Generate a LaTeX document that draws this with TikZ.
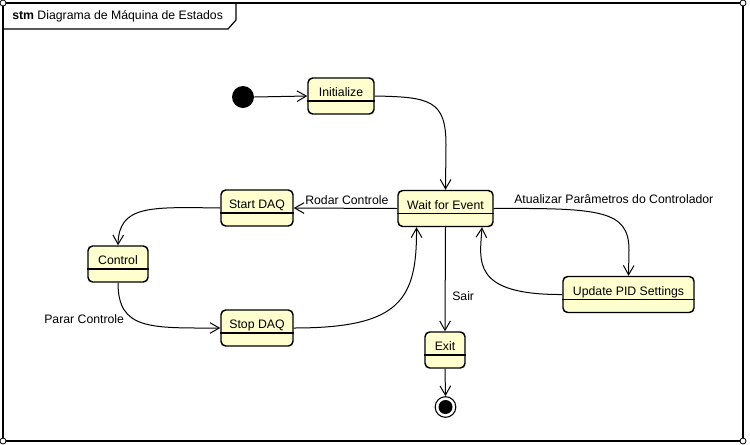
\documentclass[tikz,border=0pt]{standalone}
\usepackage{fontspec}
\setmainfont{Liberation Sans}
\usetikzlibrary{arrows.meta,calc}
\definecolor{stfill}{HTML}{FEFECE}
\tikzset{
  stbox/.style={draw=black, line width=1.1pt, fill=stfill, rounded corners=3.5pt,
    inner sep=0pt, minimum height=27pt, text height=6.75pt, text depth=6pt,
    font=\fontsize{9.2pt}{11pt}\selectfont},
  tr/.style={draw=black, line width=0.75pt, -{Straight Barb[length=7pt,width=8pt,line width=0.75pt]}},
  lbl/.style={inner sep=0pt, font=\fontsize{9.2pt}{11pt}\selectfont},
  sep/.style={draw=black, line width=1.1pt},
  handle/.style={draw=black, fill=white, line width=0.6pt, circle, inner sep=0pt, minimum size=4.5pt}
}
\begin{document}
\begin{tikzpicture}[x=0.75pt,y=-0.75pt]
\useasboundingbox (0,0) rectangle (750,444);
% frame
\draw[line width=0.9pt] (3,3) rectangle (743,441);
\draw[line width=0.9pt] (3,29) -- (228,29) -- (236,20) -- (236,3);
\node[lbl, anchor=west] (title) at (12,16) {\textbf{stm} Diagrama de Máquina de Estados};
\node[handle] (h1) at (3,3) {};
\node[handle] (h2) at (743,3) {};
\node[handle] (h3) at (743,441) {};
\node[handle] (h4) at (3,441) {};
% states
\node[fill=black, circle, inner sep=0pt, minimum size=16.5pt] (start) at (243,97) {};
\node[stbox, minimum width=49.5pt] (ini) at (341,96) {Initialize};
\node[stbox, minimum width=71.25pt] (wait) at (445.5,208.5) {Wait for Event};
\node[stbox, minimum width=54pt] (sdaq) at (257,208) {Start DAQ};
\node[stbox, minimum width=45pt] (ctrl) at (118,264) {Control};
\node[stbox, minimum width=54pt] (stdaq) at (257,328) {Stop DAQ};
\node[stbox, minimum width=98.25pt] (upd) at (628.5,294.5) {Update PID Settings};
\node[stbox, minimum width=30pt] (exit) at (445,350) {Exit};
\node[draw=black, fill=white, circle, line width=0.8pt, inner sep=0pt, minimum size=15.5pt] (final) at (445.5,407) {};
\node[fill=black, circle, inner sep=0pt, minimum size=10.5pt] (finalc) at (final.center) {};
% separators
\foreach \n in {ini,wait,sdaq,ctrl,stdaq,upd,exit}{
  \draw[sep] ($(\n.west)+(0,5)$) -- ($(\n.east)+(0,5)$);
}
% transitions
\draw[tr] (start.east) -- (ini.west);
\draw[tr] (ini.east) .. controls (430,97) and (446,100) .. (446,145) -- (wait.north);
\draw[tr] (wait.west) -- (sdaq.east);
\draw[tr] (sdaq.west) .. controls (150,207) and (119,205) .. (ctrl.north);
\draw[tr] (ctrl.south) .. controls (118,330) and (150,328) .. (stdaq.west);
\draw[tr] (stdaq.east) .. controls (400,328) and (417,300) .. ($(wait.south)+(-29,0)$);
\draw[tr] (wait.east) .. controls (600,208) and (629,210) .. (629,250) -- (upd.north);
\draw[tr] (upd.west) .. controls (470,295) and (480,260) .. ($(wait.south)+(36.5,0)$);
\draw[tr] (wait.south) -- (exit.north);
\draw[tr] (exit.south) -- (final.north);
% labels
\node[lbl, anchor=west] (l1) at (305,200) {Rodar Controle};
\node[lbl, anchor=west] (l2) at (44,319) {Parar Controle};
\node[lbl, anchor=west] (l3) at (514,199) {Atualizar Parâmetros do Controlador};
\node[lbl, anchor=west] (l4) at (452,296) {Sair};
\end{tikzpicture}
\end{document}
